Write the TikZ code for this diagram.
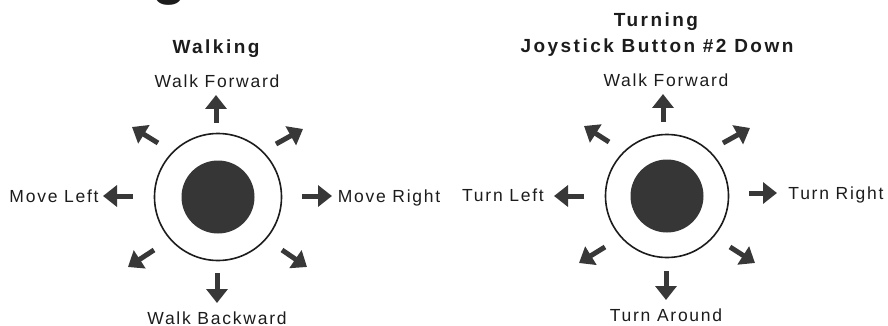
\documentclass[tikz,border=0pt]{standalone}
\usepackage{fontspec}
\setmainfont{Liberation Sans}[LetterSpace=10]
\newfontfamily\titlefont{Liberation Sans}[LetterSpace=13]
\usetikzlibrary{arrows.meta}
\definecolor{ink}{HTML}{1C1C1C}
\definecolor{arrowgray}{HTML}{383838}
\definecolor{knobgray}{HTML}{363636}
\tikzset{
  lbl/.style={anchor=base, inner sep=0pt, text=ink, font=\fontsize{17.5}{20}\selectfont},
  ttl/.style={anchor=base, inner sep=0pt, text=ink, font=\titlefont\fontsize{19}{22}\selectfont\bfseries},
  ring/.style={circle, draw=ink, line width=1.6pt, inner sep=0pt},
  knob/.style={circle, fill=knobgray, inner sep=0pt},
  blockarrow/.style={draw=arrowgray, line width=5pt, -{Triangle[length=14pt,width=21pt]}},
}
\begin{document}
\begin{tikzpicture}[x=1pt,y=-1pt]
\useasboundingbox (0,0) rectangle (888,326);
% fragment of a heading letter cut at the top edge
\node[anchor=south, inner sep=0pt, text=ink, font=\fontsize{56}{60}\selectfont\bfseries] (frag) at (170,6) {g};

% ---------- Walking ----------
\node[ring, minimum size=127pt] (Lring) at (218,197) {};
\node[knob, minimum size=73pt] (Lknob) at (218,197) {};
\node[ttl] (Ltitle) at (216,54) {Walking};
\node[lbl] (Lfwd) at (217,88) {Walk Forward};
\node[lbl] (Lback) at (217,324) {Walk Backward};
\node[lbl] (Lleft) at (54,202) {Move Left};
\node[lbl] (Lright) at (389,202) {Move Right};

\coordinate (Lu1) at ([shift={(-2,-74)}]Lring.center);
\coordinate (Lu2) at ([shift={(-2,-102)}]Lring.center);
\coordinate (Ld1) at ([shift={(-1,76)}]Lring.center);
\coordinate (Ld2) at ([shift={(-1,106)}]Lring.center);
\coordinate (Ll1) at ([shift={(-85,-1)}]Lring.center);
\coordinate (Ll2) at ([shift={(-115,-1)}]Lring.center);
\coordinate (Lr1) at ([shift={(84,-1)}]Lring.center);
\coordinate (Lr2) at ([shift={(114,-1)}]Lring.center);
\coordinate (Lnw1) at ([shift={(-60,-54)}]Lring.center);
\coordinate (Lnw2) at ([shift={(-86,-70)}]Lring.center);
\coordinate (Lne1) at ([shift={(58,-53)}]Lring.center);
\coordinate (Lne2) at ([shift={(85,-68)}]Lring.center);
\coordinate (Lsw1) at ([shift={(-64,53)}]Lring.center);
\coordinate (Lsw2) at ([shift={(-90,70)}]Lring.center);
\coordinate (Lse1) at ([shift={(64,53)}]Lring.center);
\coordinate (Lse2) at ([shift={(89,70)}]Lring.center);
\foreach \d in {u,d,l,r,nw,ne,sw,se}{
  \draw[blockarrow] (L\d1) -- (L\d2);
}

% ---------- Turning ----------
\node[ring, minimum size=123pt] (Rring) at (667,196) {};
\node[knob, minimum size=73pt] (Rknob) at (667,196) {};
\node[ttl] (Rtitle) at (656,27) {Turning};
\node[ttl] (Rsub) at (657,53) {Joystick Button \#2 Down};
\node[lbl] (Rfwd) at (666,86.5) {Walk Forward};
\node[lbl] (Rback) at (666,321.5) {Turn Around};
\node[lbl] (Rleft) at (503,201.5) {Turn Left};
\node[lbl] (Rright) at (836,199.5) {Turn Right};

\coordinate (Ru1) at ([shift={(-4,-74)}]Rring.center);
\coordinate (Ru2) at ([shift={(-4,-102)}]Rring.center);
\coordinate (Rd1) at ([shift={(-1,75)}]Rring.center);
\coordinate (Rd2) at ([shift={(-1,104)}]Rring.center);
\coordinate (Rl1) at ([shift={(-83,0)}]Rring.center);
\coordinate (Rl2) at ([shift={(-113,0)}]Rring.center);
\coordinate (Rr1) at ([shift={(82,-3)}]Rring.center);
\coordinate (Rr2) at ([shift={(110,-3)}]Rring.center);
\coordinate (Rnw1) at ([shift={(-58,-54)}]Rring.center);
\coordinate (Rnw2) at ([shift={(-83,-70)}]Rring.center);
\coordinate (Rne1) at ([shift={(56,-53)}]Rring.center);
\coordinate (Rne2) at ([shift={(83,-68)}]Rring.center);
\coordinate (Rsw1) at ([shift={(-62,51)}]Rring.center);
\coordinate (Rsw2) at ([shift={(-88,67)}]Rring.center);
\coordinate (Rse1) at ([shift={(63,51)}]Rring.center);
\coordinate (Rse2) at ([shift={(88,67)}]Rring.center);
\foreach \d in {u,d,l,r,nw,ne,sw,se}{
  \draw[blockarrow] (R\d1) -- (R\d2);
}
\end{tikzpicture}
\end{document}
